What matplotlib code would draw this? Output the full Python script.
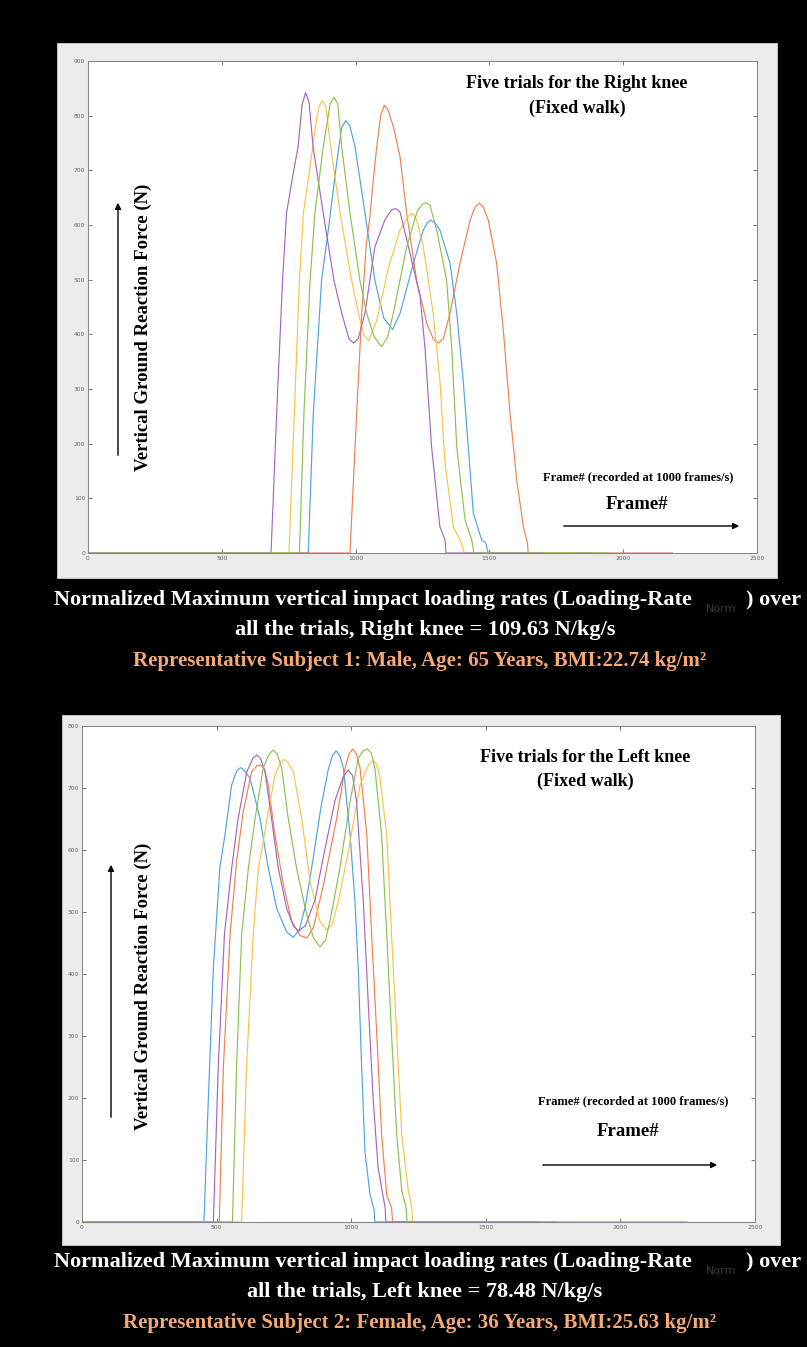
import matplotlib
matplotlib.use("Agg")
import matplotlib.pyplot as plt
from matplotlib.patches import Rectangle, FancyArrowPatch

W, H = 807, 1347

# Right knee, subject 1 (frame#, vertical GRF in N)
R_BLUE_F = [0, 823, 842, 873, 898, 929, 948, 963, 978, 998, 1035, 1072, 1105, 1138, 1166, 1216, 1253, 1268,
            1281, 1296, 1315, 1353, 1378, 1402, 1421, 1440, 1471, 1487, 1495, 1880]
R_BLUE_N = [0, 0, 256, 499, 591, 713, 778, 791, 782, 743, 622, 499, 430, 409, 438, 530, 591, 604,
            609, 604, 591, 530, 438, 316, 194, 73, 24, 18, 0, 0]
R_ORANGE_F = [0, 979, 1004, 1023, 1039, 1054, 1066, 1079, 1094, 1107, 1120, 1141, 1166, 1191, 1228, 1266, 1290,
              1309, 1328, 1353, 1390, 1428, 1446, 1461, 1476, 1496, 1527, 1552, 1577, 1602, 1627, 1642, 1645, 2183]
R_ORANGE_N = [0, 0, 256, 439, 560, 618, 682, 743, 800, 819, 812, 780, 725, 621, 499, 420, 392,
              384, 392, 439, 530, 609, 632, 640, 634, 609, 530, 408, 256, 134, 48, 18, 0, 0]
R_YELLOW_F = [0, 751, 771, 790, 805, 830, 850, 864, 876, 888, 907, 942, 985, 1010, 1030, 1048, 1079, 1122,
              1165, 1195, 1213, 1228, 1253, 1290, 1315, 1334, 1365, 1396, 1406, 1800]
R_YELLOW_N = [0, 0, 256, 499, 622, 707, 780, 818, 827, 818, 743, 622, 499, 439, 400, 388, 425, 520,
              590, 615, 621, 610, 560, 438, 316, 164, 48, 18, 0, 0]
R_PURPLE_F = [0, 684, 705, 727, 742, 767, 785, 800, 813, 826, 841, 879, 919, 948, 975, 992, 1010, 1035, 1072,
              1110, 1135, 1150, 1166, 1203, 1241, 1259, 1284, 1315, 1334, 1338, 1700]
R_PURPLE_N = [0, 0, 256, 499, 622, 695, 743, 820, 842, 825, 743, 622, 499, 439, 392, 384, 392, 439, 560,
              610, 628, 630, 624, 549, 469, 377, 194, 48, 24, 0, 0]
R_GREEN_F = [0, 790, 807, 830, 848, 879, 905, 919, 933, 948, 979, 1016, 1041, 1070, 1097, 1120, 1141, 1191,
             1230, 1250, 1263, 1278, 1303, 1340, 1359, 1378, 1409, 1434, 1442, 1944]
R_GREEN_N = [0, 0, 256, 499, 622, 743, 822, 834, 822, 743, 622, 499, 439, 395, 377, 395, 439, 560,
             625, 638, 641, 636, 591, 499, 377, 194, 60, 24, 0, 0]

# Left knee, subject 2
L_BLUE_F = [0, 453, 469, 488, 512, 531, 556, 575, 589, 603, 624, 661, 692, 723, 760, 785, 808, 830, 860,
            888, 915, 930, 944, 958, 971, 996, 1014, 1026, 1039, 1051, 1070, 1085, 1088, 1700]
L_BLUE_N = [0, 0, 195, 410, 571, 624, 705, 728, 733, 728, 716, 651, 571, 506, 468, 459, 472, 510, 590,
            670, 730, 752, 760, 752, 732, 624, 517, 410, 248, 114, 44, 20, 0, 0]
L_ORANGE_F = [0, 510, 525, 550, 574, 599, 630, 650, 664, 678, 692, 717, 748, 779, 810, 835, 860, 897, 946,
              977, 992, 1006, 1020, 1033, 1058, 1076, 1095, 1113, 1132, 1150, 1154, 2247]
L_ORANGE_N = [0, 0, 248, 463, 581, 662, 726, 736, 737, 730, 705, 624, 544, 485, 462, 458, 475, 544, 651,
              732, 755, 763, 755, 732, 624, 463, 302, 141, 44, 23, 0, 0]
L_YELLOW_F = [0, 593, 611, 636, 655, 673, 692, 717, 738, 751, 765, 785, 816, 847, 884, 909, 930, 952, 989,
              1033, 1065, 1082, 1095, 1107, 1132, 1150, 1169, 1188, 1212, 1225, 1228, 1798]
L_YELLOW_N = [0, 0, 249, 463, 571, 613, 662, 721, 741, 746, 741, 726, 651, 550, 485, 471, 480, 517, 597,
              705, 738, 744, 738, 716, 624, 463, 302, 141, 50, 23, 0, 0]
L_PURPLE_F = [0, 488, 506, 529, 556, 580, 612, 635, 649, 663, 680, 704, 729, 760, 785, 804, 830, 866, 897,
              940, 970, 989, 1005, 1020, 1045, 1063, 1082, 1100, 1126, 1129, 1700]
L_PURPLE_N = [0, 0, 249, 463, 571, 651, 726, 748, 753, 748, 726, 651, 571, 506, 478, 469, 478, 520, 590,
              680, 718, 729, 720, 678, 517, 356, 195, 87, 23, 0, 0]
L_GREEN_F = [0, 559, 574, 593, 618, 643, 673, 695, 710, 725, 742, 766, 797, 835, 860, 884, 905, 921, 958,
             996, 1026, 1045, 1060, 1075, 1088, 1113, 1132, 1150, 1169, 1188, 1204, 1208, 1768]
L_GREEN_N = [0, 0, 249, 463, 571, 651, 732, 755, 761, 755, 732, 651, 571, 495, 458, 444, 455, 485, 571,
             678, 748, 760, 763, 756, 732, 624, 463, 302, 141, 50, 23, 0, 0]

COLORS = ["#4ea5df", "#f0804e", "#f8c447", "#a866c0", "#8cc152"]  # blue, orange, yellow, purple, green

RIGHT = [(R_BLUE_F, R_BLUE_N), (R_ORANGE_F, R_ORANGE_N), (R_YELLOW_F, R_YELLOW_N),
         (R_PURPLE_F, R_PURPLE_N), (R_GREEN_F, R_GREEN_N)]
LEFT = [(L_BLUE_F, L_BLUE_N), (L_ORANGE_F, L_ORANGE_N), (L_YELLOW_F, L_YELLOW_N),
        (L_PURPLE_F, L_PURPLE_N), (L_GREEN_F, L_GREEN_N)]

SERIF = "Liberation Serif"
ORANGE_TXT = "#f5a977"

fig = plt.figure(figsize=(W / 100, H / 100), dpi=100, facecolor="black")


def fx(px):
    return px / W


def fy(py):
    return 1 - py / H


def ftext(px, py, s, **kw):
    fig.text(fx(px), fy(py), s, **kw)


def frame(x0, y0, x1, y1):
    fig.add_artist(Rectangle((fx(x0), fy(y1)), (x1 - x0) / W, (y1 - y0) / H,
                             transform=fig.transFigure, facecolor="#ececec",
                             edgecolor="#d0d0d0", lw=0.6, zorder=0))


def arrow(x0, y0, x1, y1):
    fig.add_artist(FancyArrowPatch((fx(x0), fy(y0)), (fx(x1), fy(y1)),
                                   transform=fig.transFigure, arrowstyle="-|>",
                                   mutation_scale=9, lw=1.0, color="black"))


def panel(box, ymax, trials):
    ax = fig.add_axes(box)
    for (f, n), c in zip(trials, COLORS):
        ax.plot(f, n, color=c, lw=0.85)
    ax.set_xlim(0, 2500)
    ax.set_ylim(0, ymax)
    ax.set_xticks(range(0, 2501, 500))
    ax.set_yticks(range(0, ymax + 1, 100))
    ax.tick_params(direction="in", length=3, width=0.6, top=True, right=True,
                   labelsize=4.3, labelcolor="#666666", color="#666666", pad=2)
    for sp in ax.spines.values():
        sp.set_color("#888888")
        sp.set_linewidth(0.8)
    ax.set_facecolor("white")
    return ax


def captions(y0, knee_line, subject_line):
    # white two-line caption plus the orange subject line under each panel
    ftext(692, y0, "Normalized Maximum vertical impact loading rates (Loading-Rate", family=SERIF,
          weight="bold", size=16, color="white", ha="right", va="center")
    ftext(706, y0 + 9, "Norm", size=8, color="#3a3a3a", ha="left", va="center")
    ftext(746, y0, ") over", family=SERIF, weight="bold", size=16, color="white", ha="left", va="center")
    ftext(425, y0 + 30, knee_line, family=SERIF, weight="bold", size=16,
          color="white", ha="center", va="center")
    ftext(420, y0 + 61, subject_line, family=SERIF,
          weight="bold", size=15, color=ORANGE_TXT, ha="center", va="center")


# ---- top panel: right knee
frame(57, 43, 777, 578)
panel([fx(88), fy(553), (757 - 88) / W, (553 - 61) / H], 900, RIGHT)
ftext(577, 84, "Five trials for the Right knee", family=SERIF, weight="bold", size=13, ha="center", va="center")
ftext(577, 108, "(Fixed walk)", family=SERIF, weight="bold", size=13, ha="center", va="center")
ftext(143, 327, "Vertical Ground Reaction Force (N)", family=SERIF, weight="bold", size=13.5,
      rotation=90, ha="center", va="center")
arrow(118, 458, 118, 200)
ftext(638, 477, "Frame# (recorded at 1000 frames/s)", family=SERIF, weight="bold", size=9,
      ha="center", va="center")
ftext(637, 505, "Frame#", family=SERIF, weight="bold", size=13.5, ha="center", va="center")
arrow(561, 526, 742, 526)
captions(600, "all the trials, Right knee = 109.63 N/kg/s",
         "Representative Subject 1: Male, Age: 65 Years, BMI:22.74 kg/m²")

# ---- bottom panel: left knee
frame(62, 715, 780, 1245)
panel([fx(82), fy(1222), (755 - 82) / W, (1222 - 726) / H], 800, LEFT)
ftext(585, 757, "Five trials for the Left knee", family=SERIF, weight="bold", size=13, ha="center", va="center")
ftext(585, 781, "(Fixed walk)", family=SERIF, weight="bold", size=13, ha="center", va="center")
ftext(143, 986, "Vertical Ground Reaction Force (N)", family=SERIF, weight="bold", size=13.5,
      rotation=90, ha="center", va="center")
arrow(111, 1120, 111, 862)
ftext(633, 1101, "Frame# (recorded at 1000 frames/s)", family=SERIF, weight="bold", size=9,
      ha="center", va="center")
ftext(628, 1131, "Frame#", family=SERIF, weight="bold", size=13.5, ha="center", va="center")
arrow(540, 1165, 720, 1165)
captions(1262, "all the trials, Left knee = 78.48 N/kg/s",
         "Representative Subject 2: Female, Age: 36 Years, BMI:25.63 kg/m²")

fig.savefig("out.png", dpi=100, facecolor="black")
